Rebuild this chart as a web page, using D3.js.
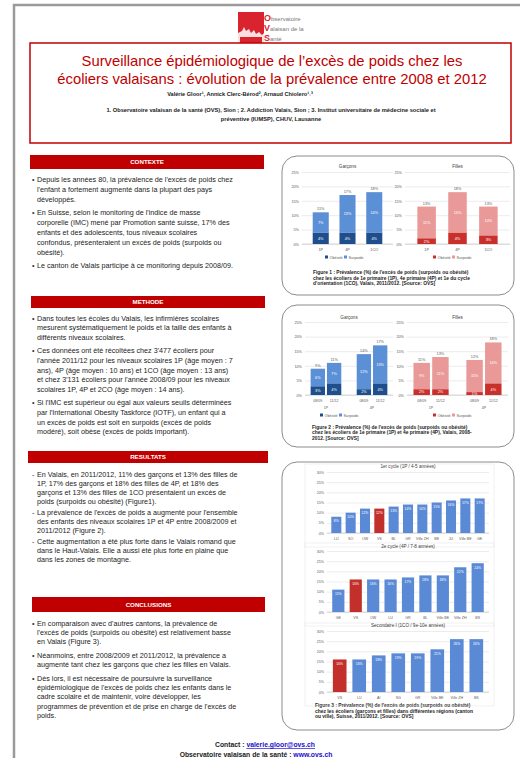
<!doctype html>
<html>
<head>
<meta charset="utf-8">
<title>Surveillance épidémiologique de l'excès de poids chez les écoliers valaisans</title>
<style>
  body { margin: 0; background: #fff; }
  svg { display: block; font-family: "Liberation Sans", Arial, sans-serif; }
</style>
</head>
<body>
<div id="poster"></div>
<script src="https://d3js.org/d3.v7.min.js"></script>
<script>

// Figure 1 : 2011/2012, Valais
var fig1Cats = ["1P", "4P", "1CO"];
var fig1BoysObese = [4, 4, 4];
var fig1BoysOver = [7, 13, 14];
var fig1BoysTotal = [11, 17, 18];
var fig1GirlsObese = [2, 4, 3];
var fig1GirlsOver = [11, 14, 10];
var fig1GirlsTotal = [13, 18, 13];

// Figure 2 : 2008/09 vs 2011/12
var fig2Groups = ["1P", "4P"];
var fig2Years = ["08/09", "11/12"];
var fig2BoysObese = [3, 4, 2, 4];
var fig2BoysOver = [6, 7, 12, 13];
var fig2BoysTotal = [9, 11, 14, 17];
var fig2GirlsObese = [2, 2, 1, 4];
var fig2GirlsOver = [9, 11, 11, 14];
var fig2GirlsTotal = [11, 13, 12, 18];

var yTicks = [0, 5, 10, 15, 20, 25];
var legendLabels = ["Obésité", "Surpoids"];

// Figure 3 : comparaison cantons / villes
var fig3aTitle = "1er cycle (1P / 4-5 années)";
var fig3aCats = ["LU", "SO", "OW", "VS", "BL", "GR", "Ville ZH", "BE", "JU", "Ville BE", "GE"];
var fig3aVals = [8, 10, 12, 12, 13, 14, 14, 15, 16, 17, 17];
var fig3bTitle = "2e cycle (4P / 7-8 années)";
var fig3bCats = ["GE", "VS", "OW", "LU", "GR", "BL", "Ville BE", "Ville ZH", "BS"];
var fig3bVals = [11, 16, 16, 16, 17, 18, 18, 22, 24];
var fig3cTitle = "Secondaire I (1CO / 9e-10e années)";
var fig3cCats = ["VS", "LU", "AI", "SG", "GR", "Ville BE", "Ville ZH", "BS"];
var fig3cVals = [16, 16, 18, 19, 19, 21, 26, 26];
var fig3Ticks = [0, 5, 10, 15, 20, 25, 30];

// texts
var title = ["Surveillance épidémiologique de l\u2019excès de poids chez les",
             "écoliers valaisans : évolution de la prévalence entre 2008 et 2012"];
var authors = "Valérie Gloor\u00b9, Annick Clerc-Bérod\u00b2, Arnaud Chiolero\u00b9\u02d2\u00b3";
var affiliations = ["1. Observatoire valaisan de la santé (OVS), Sion ; 2. Addiction Valais, Sion ; 3. Institut universitaire de médecine sociale et",
                    "préventive (IUMSP), CHUV, Lausanne"];

var contexte = [
  ["Depuis les années 80, la prévalence de l'excès de poids chez", "l'enfant a fortement augmenté dans la plupart des pays", "développés."],
  ["En Suisse, selon le monitoring de l'indice de masse", "corporelle (IMC) mené par Promotion santé suisse, 17% des", "enfants et des adolescents, tous niveaux scolaires", "confondus, présenteraient un excès de poids (surpoids ou", "obésité)."],
  ["Le canton de Valais participe à ce monitoring depuis 2008/09."]
];
var methode = [
  ["Dans toutes les écoles du Valais, les infirmières scolaires", "mesurent systématiquement le poids et la taille des enfants à", "différents niveaux scolaires."],
  ["Ces données ont été récoltées chez 3'477 écoliers pour", "l'année 2011/12 pour les niveaux scolaires 1P (âge moyen : 7", "ans), 4P (âge moyen : 10 ans) et 1CO (âge moyen : 13 ans)", "et chez 3'131 écoliers pour l'année 2008/09 pour les niveaux", "scolaires 1P, 4P et 2CO (âge moyen : 14 ans)."],
  ["Si l'IMC est supérieur ou égal aux valeurs seuils déterminées", "par l'International Obesity Taskforce (IOTF), un enfant qui a", "un excès de poids est soit en surpoids (excès de poids", "modéré), soit obèse (excès de poids important)."]
];
var resultats = [
  ["En Valais, en 2011/2012, 11% des garçons et 13% des filles de", "1P, 17% des garçons et 18% des filles de 4P, et 18% des", "garçons et 13% des filles de 1CO présentaient un excès de", "poids (surpoids ou obésité) (Figure1)."],
  ["La prévalence de l'excès de poids a augmenté pour l'ensemble", "des enfants des niveaux scolaires 1P et 4P entre 2008/2009 et", "2011/2012 (Figure 2)."],
  ["Cette augmentation a été plus forte dans le Valais romand que", "dans le Haut-Valais. Elle a aussi été plus forte en plaine que", "dans les zones de montagne."]
];
var conclusions = [
  ["En comparaison avec d'autres cantons, la prévalence de", "l'excès de poids (surpoids ou obésité) est relativement basse", "en Valais (Figure 3)."],
  ["Néanmoins, entre 2008/2009 et 2011/2012, la prévalence a", "augmenté tant chez les garçons que chez les filles en Valais."],
  ["Dès lors, il est nécessaire de poursuivre la surveillance", "épidémiologique de l'excès de poids chez les enfants dans le", "cadre scolaire et de maintenir, voire développer, les", "programmes de prévention et de prise en charge de l'excès de", "poids."]
];
var cap1 = ["Figure 1 : Prévalence (%) de l'excès de poids (surpoids ou obésité)", "chez les écoliers de 1e primaire (1P), 4e primaire (4P) et 1e du cycle", "d'orientation (1CO), Valais, 2011/2012. [Source: OVS]"];
var cap2 = ["Figure 2 : Prévalence (%) de l'excès de poids (surpoids ou obésité)", "chez les écoliers de 1e primaire (1P) et 4e primaire (4P), Valais, 2008-", "2012. [Source: OVS]"];
var cap3 = ["Figure 3 : Prévalence (%) de l'excès de poids (surpoids ou obésité)", "chez les écoliers (garçons et filles) dans différentes régions (canton", "ou ville), Suisse, 2011/2012. [Source: OVS]"];

// ---- colours ----
var red = "#c00000";
var boyDark = "#1f4e8c", boyLight = "#5b8fd6";
var girlDark = "#c9302c", girlLight = "#e99a98";
var barBlue = "#5a8ad6", barRed = "#c3302c";

var svg = d3.select("#poster").append("svg")
    .attr("width", 520)
    .attr("height", 758);

// poster frame
svg.append("rect")
    .attr("x", 14).attr("y", 5).attr("width", 530).attr("height", 800)
    .attr("fill", "none").attr("stroke", "#9a9a9a").attr("stroke-width", 2.5);

// logo
var logo = svg.append("g");
logo.append("rect").attr("x", 238).attr("y", 12).attr("width", 26).attr("height", 31).attr("fill", "#d9232e");
logo.append("path")
    .attr("d", "M238,43 L238,33 L242,31 L244,27 L246,31 L249,29 L251,33 L254,30 L256,34 L259,32 L262,35 L264,33 L264,43 Z")
    .attr("fill", "#fff").attr("opacity", 0.85);
logo.append("rect").attr("x", 240).attr("y", 37).attr("width", 22).attr("height", 6).attr("fill", "#d9232e");
[["O", "bservatoire", 21], ["V", "alaisan de la", 31], ["S", "anté", 41]].forEach(function (t) {
    var tx = logo.append("text").attr("x", 264).attr("y", t[2]).attr("font-size", 6);
    tx.append("tspan").attr("fill", "#d9232e").attr("font-weight", "bold").attr("font-size", 9).text(t[0]);
    tx.append("tspan").attr("fill", "#777").text(t[1]);
});

// title box
svg.append("rect")
    .attr("x", 30).attr("y", 43).attr("width", 481).attr("height", 100)
    .attr("fill", "none").attr("stroke", red).attr("stroke-width", 1.5);
svg.selectAll(".title").data(title).enter().append("text")
    .attr("class", "title")
    .attr("x", 272).attr("y", function (d, i) { return 66 + i * 18; })
    .attr("text-anchor", "middle").attr("font-size", 14.8).attr("fill", red)
    .text(function (d) { return d; });
svg.append("text").attr("x", 240).attr("y", 96).attr("text-anchor", "middle")
    .attr("font-size", 5.6).attr("font-weight", "bold").attr("fill", "#222").text(authors);
svg.selectAll(".aff").data(affiliations).enter().append("text")
    .attr("class", "aff")
    .attr("x", 271).attr("y", function (d, i) { return 112 + i * 9; })
    .attr("text-anchor", "middle").attr("font-size", 5.7).attr("font-weight", "bold").attr("fill", "#222")
    .text(function (d) { return d; });

// ---- left column sections ----
function section(name, x0, x1, yTop, hh, paras, y0, lh, gap, bullet) {
    var g = svg.append("g");
    g.append("rect").attr("x", x0).attr("y", yTop).attr("width", x1 - x0).attr("height", hh).attr("fill", red);
    g.append("text").attr("x", (x0 + x1) / 2).attr("y", yTop + hh / 2 + 2.2)
        .attr("text-anchor", "middle").attr("font-size", 6.2).attr("font-weight", "bold")
        .attr("fill", "#fff").text(name);
    var y = y0;
    paras.forEach(function (p) {
        p.forEach(function (line, j) {
            if (j === 0) {
                g.append("text").attr("x", 32).attr("y", y).attr("font-size", 7.2).attr("fill", "#333").text(bullet);
            }
            g.append("text").attr("x", 37).attr("y", y).attr("font-size", 7.2).attr("fill", "#222").text(line);
            y += lh;
        });
        y += gap;
    });
}
section("CONTEXTE", 30, 264, 155, 14, contexte, 181.5, 10, 3, "\u2022");
section("METHODE", 31, 265, 296, 12, methode, 320.5, 9.6, 4, "\u2022");
section("RESULTATS", 28, 268, 451, 12, resultats, 476.5, 9.1, 2, "-");
section("CONCLUSIONS", 32, 265, 597, 15, conclusions, 625.5, 9.4, 4, "\u2022");

// contact
var c1 = svg.append("text").attr("x", 265).attr("y", 747).attr("text-anchor", "middle")
    .attr("font-size", 6.8).attr("font-weight", "bold").attr("fill", "#222");
c1.append("tspan").text("Contact : ");
c1.append("tspan").attr("fill", "#1a0dcc").attr("text-decoration", "underline").text("valerie.gloor@ovs.ch");
var c2 = svg.append("text").attr("x", 256).attr("y", 757).attr("text-anchor", "middle")
    .attr("font-size", 6.8).attr("font-weight", "bold").attr("fill", "#222");
c2.append("tspan").text("Observatoire valaisan de la santé : ");
c2.append("tspan").attr("fill", "#1a0dcc").attr("text-decoration", "underline").text("www.ovs.ch");

// ---- right column boxes ----
function box(y0, y1) {
    svg.append("rect").attr("x", 282).attr("y", y0).attr("width", 232).attr("height", y1 - y0)
        .attr("rx", 15).attr("fill", "none").attr("stroke", "#8c8c8c").attr("stroke-width", 1);
}
box(156, 295);
box(305, 447);
box(462, 730);

function caption(lines, x, y0, lh) {
    svg.append("g").selectAll("text").data(lines).enter().append("text")
        .attr("x", x).attr("y", function (d, i) { return y0 + i * lh; })
        .attr("font-size", 4.9).attr("font-weight", "bold").attr("fill", "#222")
        .text(function (d) { return d; });
}
caption(cap1, 313, 274, 5.6);
caption(cap2, 312, 428.5, 5.6);
caption(cap3, 315, 707, 5.6);

var pct = function (d) { return d + "%"; };

function yAxis(y, x0, x1, ticks, fs) {
    var ax = svg.append("g").attr("transform", "translate(" + x0 + ",0)")
        .call(d3.axisLeft(y).tickValues(ticks).tickSize(-(x1 - x0)).tickPadding(3).tickFormat(pct));
    ax.select(".domain").remove();
    ax.selectAll("line").attr("stroke", "#d9d9d9").attr("stroke-width", 0.5);
    ax.selectAll("text").attr("font-size", fs).attr("fill", "#595959").attr("font-family", "Liberation Sans, Arial, sans-serif");
    svg.append("line").attr("x1", x0).attr("x2", x1).attr("y1", y(0)).attr("y2", y(0))
        .attr("stroke", "#bfbfbf").attr("stroke-width", 0.6);
}

function stacked(xs, bw, y, obese, over, total, dark, light) {
    var g = svg.append("g");
    var idx = d3.range(obese.length);
    g.selectAll(".o").data(idx).enter().append("rect")
        .attr("x", function (i) { return xs[i]; }).attr("width", bw)
        .attr("y", function (i) { return y(obese[i]); })
        .attr("height", function (i) { return y(0) - y(obese[i]); })
        .attr("fill", dark);
    g.selectAll(".s").data(idx).enter().append("rect")
        .attr("x", function (i) { return xs[i]; }).attr("width", bw)
        .attr("y", function (i) { return y(total[i]); })
        .attr("height", function (i) { return y(obese[i]) - y(total[i]); })
        .attr("fill", light);
    g.selectAll(".lo").data(idx).enter().append("text")
        .attr("x", function (i) { return xs[i] + bw / 2; })
        .attr("y", function (i) { return y(obese[i] / 2) + 1.4; })
        .attr("text-anchor", "middle").attr("font-size", 3.8).attr("fill", "#fff")
        .text(function (i) { return obese[i] + "%"; });
    g.selectAll(".ls").data(idx).enter().append("text")
        .attr("x", function (i) { return xs[i] + bw / 2; })
        .attr("y", function (i) { return y((obese[i] + total[i]) / 2) + 1.4; })
        .attr("text-anchor", "middle").attr("font-size", 3.8).attr("fill", "#fff")
        .text(function (i) { return over[i] + "%"; });
    g.selectAll(".lt").data(idx).enter().append("text")
        .attr("x", function (i) { return xs[i] + bw / 2; })
        .attr("y", function (i) { return y(total[i]) - 2; })
        .attr("text-anchor", "middle").attr("font-size", 3.8).attr("fill", "#595959")
        .text(function (i) { return total[i] + "%"; });
}

function legend(x, y, dark, light) {
    var g = svg.append("g");
    [dark, light].forEach(function (c, i) {
        var lx = x + i * 19;
        g.append("rect").attr("x", lx).attr("y", y - 2.5).attr("width", 3).attr("height", 3).attr("fill", c);
        g.append("text").attr("x", lx + 4.5).attr("y", y + 0.6).attr("font-size", 3.8).attr("fill", "#595959").text(legendLabels[i]);
    });
}

function panelTitle(t, x, y) {
    svg.append("text").attr("x", x).attr("y", y).attr("text-anchor", "middle")
        .attr("font-size", 4.6).attr("fill", "#404040").text(t);
}

// Figure 1
function fig1Panel(x0, x1, name, obese, over, total, dark, light, lx) {
    var y = d3.scaleLinear().domain([0, 25]).range([244, 172]);
    var x = d3.scaleBand().domain(fig1Cats).range([x0, x1]).padding(0.4);
    yAxis(y, x0, x1, yTicks, 3.8);
    stacked(fig1Cats.map(function (c) { return x(c); }), x.bandwidth(), y, obese, over, total, dark, light);
    svg.append("g").selectAll("text").data(fig1Cats).enter().append("text")
        .attr("x", function (c) { return x(c) + x.bandwidth() / 2; }).attr("y", 250.5)
        .attr("text-anchor", "middle").attr("font-size", 3.8).attr("fill", "#595959")
        .text(function (c) { return c; });
    panelTitle(name, (x0 + x1) / 2, 168);
    legend(lx, 258, dark, light);
}
fig1Panel(302, 393, "Garçons", fig1BoysObese, fig1BoysOver, fig1BoysTotal, boyDark, boyLight, 325);
fig1Panel(405, 510, "Filles", fig1GirlsObese, fig1GirlsOver, fig1GirlsTotal, girlDark, girlLight, 433);

// Figure 2
function fig2Panel(x0, x1, name, obese, over, total, dark, light, lx) {
    var y = d3.scaleLinear().domain([0, 25]).range([395, 322]);
    var gx = d3.scaleBand().domain(fig2Groups).range([x0, x1]).paddingInner(0.25).paddingOuter(0.08);
    var ix = d3.scaleBand().domain(fig2Years).range([0, gx.bandwidth()]).padding(0.12);
    yAxis(y, x0, x1, yTicks, 3.8);
    var xs = [], labs = [];
    fig2Groups.forEach(function (g) {
        fig2Years.forEach(function (yr) {
            xs.push(gx(g) + ix(yr));
            labs.push(yr);
        });
    });
    stacked(xs, ix.bandwidth(), y, obese, over, total, dark, light);
    svg.append("g").selectAll("text").data(labs).enter().append("text")
        .attr("x", function (d, i) { return xs[i] + ix.bandwidth() / 2; }).attr("y", 401.5)
        .attr("text-anchor", "middle").attr("font-size", 3.6).attr("fill", "#595959")
        .text(function (d) { return d; });
    svg.append("g").selectAll("text").data(fig2Groups).enter().append("text")
        .attr("x", function (g) { return gx(g) + gx.bandwidth() / 2; }).attr("y", 409)
        .attr("text-anchor", "middle").attr("font-size", 3.6).attr("fill", "#595959")
        .text(function (g) { return g; });
    panelTitle(name, (x0 + x1) / 2, 319);
    legend(lx, 416, dark, light);
}
fig2Panel(305, 393, "Garçons", fig2BoysObese, fig2BoysOver, fig2BoysTotal, boyDark, boyLight, 320);
fig2Panel(407, 508, "Filles", fig2GirlsObese, fig2GirlsOver, fig2GirlsTotal, girlDark, girlLight, 433);

// Figure 3
function fig3Chart(name, cats, vals, yTop, yBot, titleY, labY) {
    var x0 = 327, x1 = 489;
    var y = d3.scaleLinear().domain([0, 30]).range([yBot, yTop]);
    var x = d3.scaleBand().domain(cats).range([x0, x1]).padding(0.3);
    svg.append("rect").attr("x", x0 - 22).attr("y", yTop - 8).attr("width", x1 - x0 + 27).attr("height", yBot - yTop + 22)
        .attr("fill", "none").attr("stroke", "#e3e3e3").attr("stroke-width", 0.5);
    yAxis(y, x0, x1, fig3Ticks, 3.6);
    var g = svg.append("g");
    g.selectAll("rect").data(cats).enter().append("rect")
        .attr("x", function (c) { return x(c); }).attr("width", x.bandwidth())
        .attr("y", function (c, i) { return y(vals[i]); })
        .attr("height", function (c, i) { return yBot - y(vals[i]); })
        .attr("fill", function (c) { return c === "VS" ? barRed : barBlue; });
    g.selectAll(".v").data(cats).enter().append("text")
        .attr("x", function (c) { return x(c) + x.bandwidth() / 2; })
        .attr("y", function (c, i) { return y(vals[i]) + 5.5; })
        .attr("text-anchor", "middle").attr("font-size", 3.4).attr("fill", "#fff")
        .text(function (c, i) { return vals[i] + "%"; });
    g.selectAll(".c").data(cats).enter().append("text")
        .attr("x", function (c) { return x(c) + x.bandwidth() / 2; }).attr("y", labY)
        .attr("text-anchor", "middle").attr("font-size", 3.6).attr("fill", "#595959")
        .text(function (c) { return c; });
    panelTitle(name, (x0 + x1) / 2, titleY);
}
fig3Chart(fig3aTitle, fig3aCats, fig3aVals, 472, 533, 468, 539.5);
fig3Chart(fig3bTitle, fig3bCats, fig3bVals, 551, 612, 548, 618.5);
fig3Chart(fig3cTitle, fig3cCats, fig3cVals, 631, 692, 627, 698.5);

</script>
</body>
</html>
